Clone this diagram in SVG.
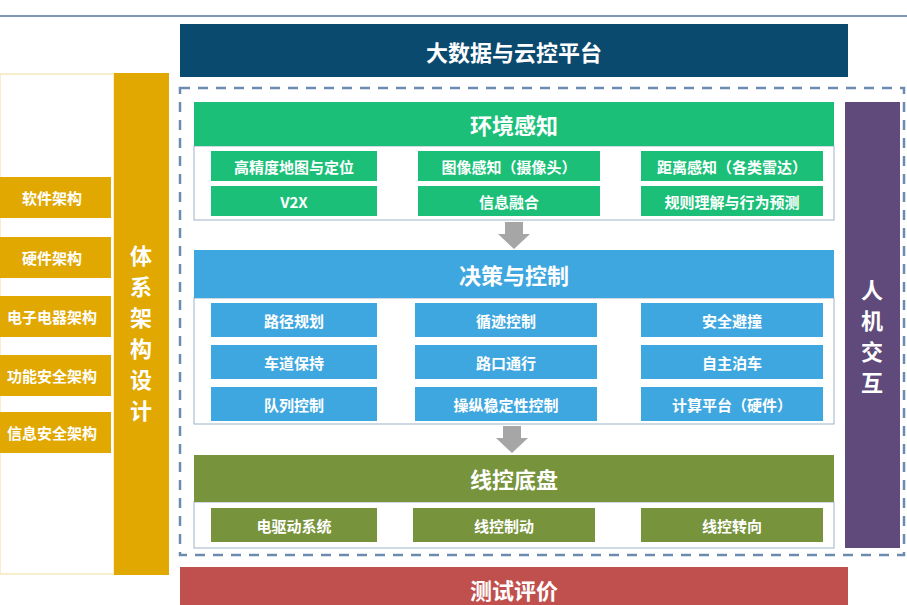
<svg xmlns="http://www.w3.org/2000/svg" width="907" height="605" viewBox="0 0 907 605">
<style>
text{font-family:"Noto Sans CJK SC","Liberation Sans",sans-serif;fill:#fff;font-weight:bold;text-anchor:middle;dominant-baseline:central}
.t{font-size:22px}.s{font-size:15px}.v{font-size:22px}
.g{fill:#1bbf78}.b{fill:#3fa7e0}.o{fill:#77933c}.y{fill:#e0a800}
.c{fill:#fff;stroke:#9fb3c8;stroke-width:1}
.ar{fill:#a6a6a6}
</style>
<rect width="907" height="605" fill="#fff"/>
<line x1="0" y1="16" x2="907" y2="16" stroke="#7f97b5" stroke-width="2"/>
<g id="bigdata"><rect x="180" y="24" width="668" height="53" fill="#0b4a6f"/><text class="t" x="514" y="51">大数据与云控平台</text></g>
<rect x="180" y="88" width="724" height="467" fill="none" stroke="#6b8bb0" stroke-width="2.5" stroke-dasharray="10,8"/>
<g id="left">
<rect x="0" y="74" width="114" height="500" fill="#fff" stroke="#f2dc9c"/>
<rect class="y" x="114" y="73" width="55" height="502"/>
<text class="v" x="141" y="254">体</text><text class="v" x="141" y="285">系</text><text class="v" x="141" y="316">架</text><text class="v" x="141" y="347">构</text><text class="v" x="141" y="378">设</text><text class="v" x="141" y="409">计</text>
<rect class="y" x="0" y="177" width="111" height="41"/><text class="s" x="52" y="197">软件架构</text>
<rect class="y" x="0" y="237" width="111" height="41"/><text class="s" x="52" y="257">硬件架构</text>
<rect class="y" x="0" y="296" width="111" height="41"/><text class="s" x="52" y="316">电子电器架构</text>
<rect class="y" x="0" y="355" width="111" height="41"/><text class="s" x="52" y="375">功能安全架构</text>
<rect class="y" x="0" y="412" width="111" height="41"/><text class="s" x="52" y="432">信息安全架构</text>
</g>
<g id="hmi"><rect x="845" y="102" width="55" height="446" fill="#5f4a7b"/>
<text class="v" x="872" y="288">人</text><text class="v" x="872" y="319">机</text><text class="v" x="872" y="350">交</text><text class="v" x="872" y="381">互</text></g>
<g id="perception">
<rect class="c" x="194" y="146" width="640" height="74"/>
<rect class="g" x="194" y="102" width="640" height="44"/><text class="t" x="514" y="124">环境感知</text>
<rect class="g" x="211" y="151" width="166" height="30"/><text class="s" x="294" y="166">高精度地图与定位</text>
<rect class="g" x="418" y="151" width="182" height="30"/><text class="s" x="509" y="166">图像感知（摄像头）</text>
<rect class="g" x="641" y="151" width="182" height="30"/><text class="s" x="732" y="166">距离感知（各类雷达）</text>
<rect class="g" x="211" y="186" width="166" height="30"/><text class="s" x="294" y="201">V2X</text>
<rect class="g" x="418" y="186" width="182" height="30"/><text class="s" x="509" y="201">信息融合</text>
<rect class="g" x="641" y="186" width="182" height="30"/><text class="s" x="732" y="201">规则理解与行为预测</text>
</g>
<g id="decision">
<rect class="c" x="194" y="298" width="640" height="126"/>
<rect class="b" x="194" y="250" width="640" height="48"/><text class="t" x="514" y="274">决策与控制</text>
<rect class="b" x="211" y="303" width="166" height="34"/><text class="s" x="294" y="320">路径规划</text>
<rect class="b" x="415" y="303" width="182" height="34"/><text class="s" x="506" y="320">循迹控制</text>
<rect class="b" x="641" y="303" width="182" height="34"/><text class="s" x="732" y="320">安全避撞</text>
<rect class="b" x="211" y="345" width="166" height="34"/><text class="s" x="294" y="362">车道保持</text>
<rect class="b" x="415" y="345" width="182" height="34"/><text class="s" x="506" y="362">路口通行</text>
<rect class="b" x="641" y="345" width="182" height="34"/><text class="s" x="732" y="362">自主泊车</text>
<rect class="b" x="211" y="387" width="166" height="34"/><text class="s" x="294" y="404">队列控制</text>
<rect class="b" x="415" y="387" width="182" height="34"/><text class="s" x="506" y="404">操纵稳定性控制</text>
<rect class="b" x="641" y="387" width="182" height="34"/><text class="s" x="732" y="404">计算平台（硬件）</text>
</g>
<g id="chassis">
<rect class="c" x="194" y="502" width="640" height="46"/>
<rect class="o" x="194" y="455" width="640" height="47"/><text class="t" x="514" y="478">线控底盘</text>
<rect class="o" x="211" y="508" width="166" height="34"/><text class="s" x="294" y="525">电驱动系统</text>
<rect class="o" x="413" y="508" width="182" height="34"/><text class="s" x="504" y="525">线控制动</text>
<rect class="o" x="641" y="508" width="182" height="34"/><text class="s" x="732" y="525">线控转向</text>
</g>
<g id="test"><rect x="180" y="567" width="668" height="40" fill="#c0504d"/><text class="t" x="514" y="589">测试评价</text></g>
<g id="connectors">
<polygon class="ar" points="505,222 523,222 523,234 530,234 514,249 498,234 505,234"/>
<polygon class="ar" points="503,426 521,426 521,438 528,438 512,453 496,438 503,438"/>
</g>
</svg>
